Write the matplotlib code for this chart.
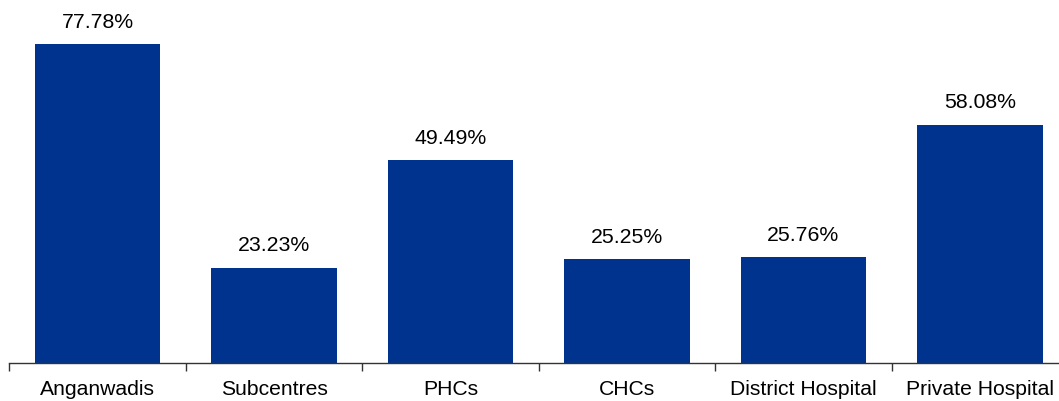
import matplotlib.pyplot as plt
import numpy as np

plt.rcParams['font.family'] = ['Liberation Sans', 'DejaVu Sans']

# facility types and share of respondents
facilities = ['Anganwadis', 'Subcentres', 'PHCs', 'CHCs', 'District Hospital', 'Private Hospital']
shares = [77.78, 23.23, 49.49, 25.25, 25.76, 58.08]

W, H = 1059, 401
fig = plt.figure(figsize=(W / 100, H / 100), dpi=100)
# axes spans the 6 category slots; the last one runs past the right edge
slot = 176.5
ax = fig.add_axes([9.25 / W, 38 / H, 6 * slot / W, 328 / H])

x = np.arange(len(facilities))
bars = ax.bar(x, shares, width=0.71, color='#00338D')

for xi, v in zip(x, shares):
    ax.annotate(f'{v:.2f}%', (xi, v), xytext=(0, 9), textcoords='offset points',
                ha='center', va='bottom', fontsize=15.3, color='black')

ax.set_xlim(-0.5, len(facilities) - 0.5)
ax.set_ylim(0, 80)

# labels centred under bars, tick marks on the slot boundaries
ax.set_xticks(x)
ax.set_xticklabels(facilities, fontsize=15.2)
ax.tick_params(axis='x', which='major', length=0, pad=12)
ax.set_xticks(np.arange(-0.5, len(facilities)), minor=True)
ax.tick_params(axis='x', which='minor', length=6, width=1, direction='out', color='#333333')

ax.set_yticks([])
for side in ['left', 'right', 'top']:
    ax.spines[side].set_visible(False)
ax.spines['bottom'].set_color('#333333')
ax.spines['bottom'].set_linewidth(1)

fig.savefig('out.png', dpi=100)
